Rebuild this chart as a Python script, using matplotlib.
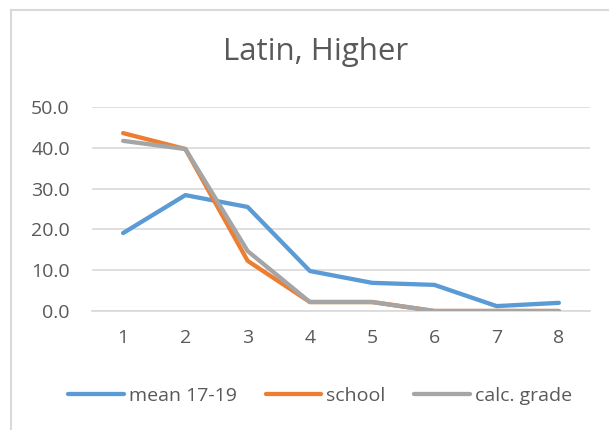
import matplotlib
matplotlib.use("Agg")
import matplotlib.pyplot as plt
from matplotlib.lines import Line2D

plt.rcParams['font.family'] = ['Open Sans', 'DejaVu Sans']

categories = [1, 2, 3, 4, 5, 6, 7, 8]
mean_17_19 = [19.1, 28.4, 25.5, 9.8, 6.9, 6.4, 1.2, 2.0]
school = [43.6, 39.7, 12.3, 2.2, 2.2, 0.0, 0.0, 0.0]
calc_grade = [41.7, 39.7, 14.7, 2.2, 2.2, 0.0, 0.0, 0.0]
y_ticks = [0, 10, 20, 30, 40, 50]

fig = plt.figure(figsize=(6.09, 4.30), dpi=100)
ax = fig.add_axes([92/609, 1 - 311/430, 498/609, 204/430])

x = list(range(len(categories)))
ax.plot(x, mean_17_19, color='#5B9BD5', lw=3.1, solid_capstyle='round', label='mean 17-19', zorder=3)
ax.plot(x, school, color='#ED7D31', lw=3.1, solid_capstyle='round', label='school', zorder=4)
ax.plot(x, calc_grade, color='#A5A5A5', lw=3.1, solid_capstyle='round', label='calc. grade', zorder=5)

ax.set_xlim(-0.5, len(categories) - 0.5)
ax.set_ylim(0, 50)
ax.set_xticks(x)
ax.set_xticklabels([str(c) for c in categories])
ax.set_yticks(y_ticks)
ax.set_yticklabels([f"{v:.1f}" for v in y_ticks])
ax.tick_params(axis='both', length=0, labelsize=14, colors='#595959')
ax.tick_params(axis='x', pad=13)
ax.tick_params(axis='y', pad=16)
ax.grid(axis='y', color='#D9D9D9', lw=1.2)
ax.set_axisbelow(True)
for s in ['top', 'right', 'left']:
    ax.spines[s].set_visible(False)
ax.spines['bottom'].set_color('#D9D9D9')
ax.spines['bottom'].set_linewidth(1.2)

fig.text(316/609, 1 - 52/430, 'Latin, Higher', ha='center', va='center',
         fontsize=22.5, color='#595959')

fig.legend(loc='center', bbox_to_anchor=(320/609, 1 - 396/430), ncol=3, frameon=False,
           fontsize=14, handlelength=2.85, handletextpad=0.25, columnspacing=1.5,
           labelcolor='#595959')

# chart area frame (top and left edges)
fig.add_artist(Line2D([11/609, 1], [1 - 10/430, 1 - 10/430], color='#D9D9D9', lw=1.5,
                      transform=fig.transFigure))
fig.add_artist(Line2D([11/609, 11/609], [0, 1 - 10/430], color='#D9D9D9', lw=1.5,
                      transform=fig.transFigure))

fig.savefig('out.png', dpi=100)
